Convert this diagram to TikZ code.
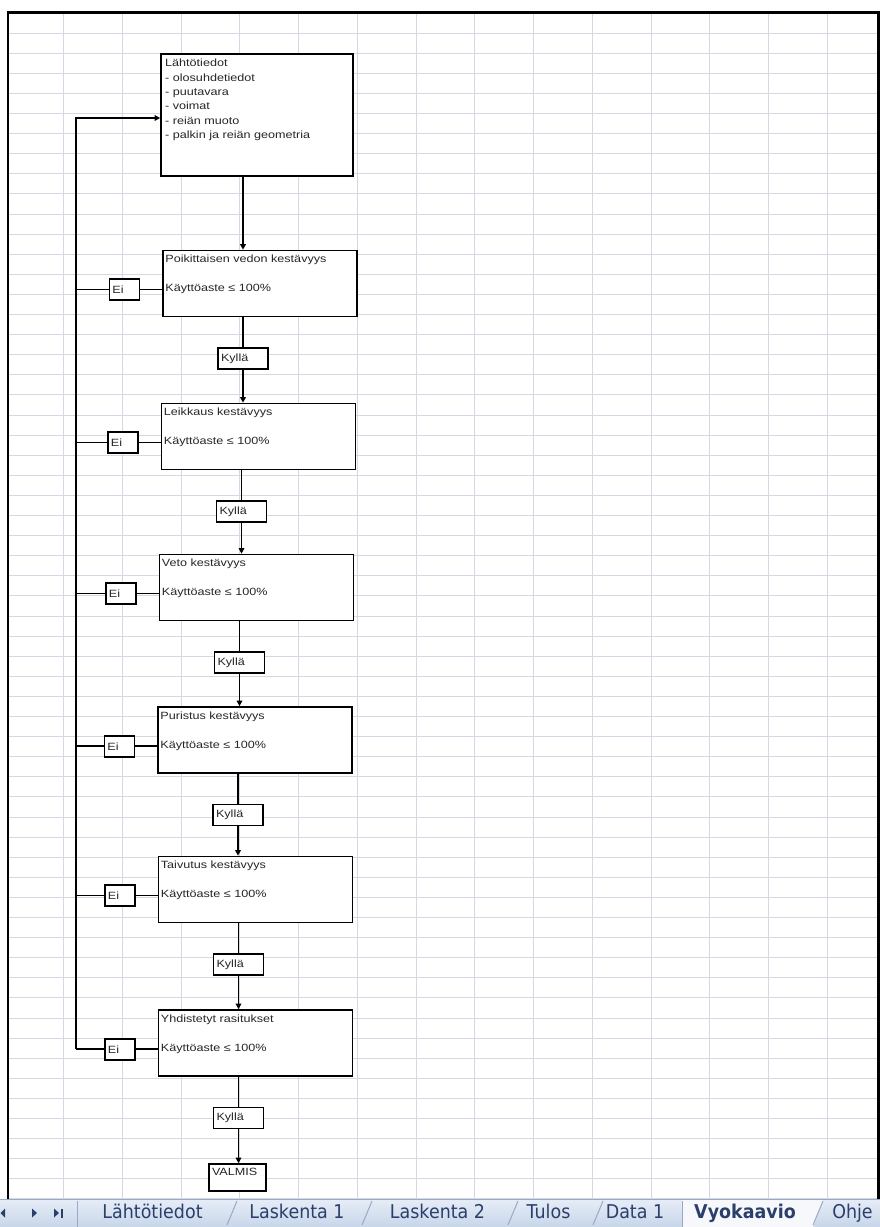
\documentclass[tikz,border=0pt]{standalone}
\usepackage{fontspec}
\usepackage{tikz}
\usetikzlibrary{positioning, arrows.meta}
\newfontfamily\boxfont{Liberation Sans}[FakeStretch=1.2]
\newfontfamily\tabfont{DejaVu Sans}[FakeStretch=0.92]
\definecolor{gridLine}{HTML}{D3D8E2}
\definecolor{boxText}{HTML}{262626}
\definecolor{tabTop}{HTML}{E6EDF7}
\definecolor{tabBottom}{HTML}{C8D6EA}
\definecolor{tabActive}{HTML}{F6F8FC}
\definecolor{tabEdge}{HTML}{98A9C4}
\definecolor{tabText}{HTML}{2A3F6B}

\begin{document}
\begin{tikzpicture}[x=1pt, y=1pt,
    boxtext/.style={font=\boxfont\fontsize{10.5}{14.3}\selectfont, text=boxText, inner sep=0pt},
    flowbox/.style={draw=black, line width=1.6pt, fill=white},
    testbox/.style={flowbox, minimum width=194pt, minimum height=66pt},
    smallbox/.style={flowbox, boxtext, inner xsep=3pt, inner ysep=0pt, minimum height=21pt, align=left},
    eibox/.style={smallbox, text width=24pt},
    kyllabox/.style={smallbox, text width=44pt},
    yhteys/.style={line width=1.5pt},
    flow/.style={yhteys, -{Triangle[length=5.5pt, width=5.5pt]}},
    tabname/.style={font=\tabfont\fontsize{19}{22}\selectfont, text=tabText, inner sep=0pt, anchor=base},
    tabcut/.style={draw=tabEdge, line width=1pt}]
    \useasboundingbox[fill=white] (0,0) rectangle (880,-1227);
    % sheet grid
    \foreach \k in {1,...,59}
      \draw[gridLine, line width=0.9pt] (8,{-13-20.1*\k}) -- (878,{-13-20.1*\k});
    \foreach \k in {0,...,13}
      \draw[gridLine, line width=0.9pt] ({63.5+58.75*\k},-12.5) -- ({63.5+58.75*\k},-1199);
    \draw[line width=2.5pt] (8,-1199) -- (8,-12.5) -- (878.7,-12.5) -- (878.7,-1199);

    % input data
    \node[flowbox, minimum width=192pt, minimum height=122pt] (lahto) at (257,-115) {};
    \node[boxtext, anchor=north west, align=left] (lahto-t) at (165,-59)
      {Lähtötiedot\\- olosuhdetiedot\\- puutavara\\- voimat\\- reiän muoto\\- palkin ja reiän geometria};

    % checks
    \foreach \n/\px/\py/\otsikko in {pvk/260/-283.5/Poikittaisen vedon kestävyys,
        leik/258.5/-436.5/Leikkaus kestävyys, veto/256.5/-587.5/Veto kestävyys,
        puri/255/-740/Puristus kestävyys, taiv/255.5/-889.5/Taivutus kestävyys,
        yhd/255.5/-1043/Yhdistetyt rasitukset} {
      \node[testbox] (\n) at (\px,\py) {};
      \node[boxtext, anchor=base west] (\n-ots) at ([xshift=3pt, yshift=-12.8pt]\n.north west) {\otsikko};
      \node[boxtext, anchor=base west] (\n-kaa) at ([xshift=3pt, yshift=-41.8pt]\n.north west) {Käyttöaste ≤ 100\%};
      \node[eibox, anchor=east] (\n-ei) at ([xshift=-22pt, yshift=-40pt]\n.north west) {Ei};
      \node[kyllabox, below=30pt of \n, xshift=-17pt] (\n-k) {Kyllä};
    }
    \node[flowbox, boxtext, inner xsep=3pt, text width=51pt, align=left, minimum height=27pt,
      text height=7.5pt, text depth=11pt] (valmis) at (237.5,-1177.5) {VALMIS};

    % connectors
    \coordinate (paluu) at (76,-118);
    \draw[flow] (pvk-k |- lahto.south) -- (pvk-k |- pvk.north);
    \foreach \a/\b in {pvk/leik, leik/veto, veto/puri, puri/taiv, taiv/yhd} {
      \draw[yhteys] (\a-k |- \a.south) -- (\a-k.north);
      \draw[flow] (\a-k.south) -- (\a-k |- \b.north);
    }
    \draw[yhteys] (yhd-k |- yhd.south) -- (yhd-k.north);
    \draw[flow] (yhd-k.south) -- (yhd-k |- valmis.north);
    \foreach \n in {pvk, leik, veto, puri, taiv, yhd} {
      \draw[yhteys] (\n-ei.east) -- (\n-ei.east -| \n.west);
      \draw[yhteys] (\n-ei.west) -- (\n-ei.west -| paluu);
    }
    \draw[flow] (yhd-ei.west -| paluu) -- (paluu) -- (paluu -| lahto.west);

    % sheet tabs
    \shade[top color=tabTop, bottom color=tabBottom] (0,-1199) rectangle (880,-1227);
    \fill[tabActive] (682,-1200) -- (682,-1227) -- (813,-1227) -- (823,-1200) -- cycle;
    \draw[tabEdge, line width=0.8pt] (0,-1199.5) -- (880,-1199.5);
    \draw[tabcut] (77,-1201) -- (77,-1227);
    \draw[tabcut] (682,-1201) -- (682,-1227);
    \foreach \sx in {227, 362, 508, 593, 813}
      \draw[tabcut] (\sx,-1225) -- ({\sx+10},-1201);
    \fill[tabText] (0.5,-1213) -- (5,-1208.5) -- (5,-1217.5) -- cycle;
    \fill[tabText] (32,-1208.5) -- (37,-1213) -- (32,-1217.5) -- cycle;
    \fill[tabText] (54,-1208.5) -- (59,-1213) -- (54,-1217.5) -- cycle;
    \fill[tabText] (60.5,-1208.5) rectangle (62.5,-1217.5);
    \node[tabname] (tabLahto) at (152.5,-1218) {Lähtötiedot};
    \node[tabname] (tabLask1) at (297,-1218) {Laskenta 1};
    \node[tabname] (tabLask2) at (437.5,-1218) {Laskenta 2};
    \node[tabname] (tabTulos) at (548.5,-1218) {Tulos};
    \node[tabname] (tabData) at (635,-1218) {Data 1};
    \node[tabname, font=\tabfont\bfseries\fontsize{19}{22}\selectfont] (tabVyo) at (745,-1218) {Vyokaavio};
    \node[tabname] (tabOhje) at (852.5,-1218) {Ohje};
  \end{tikzpicture}
\end{document}
